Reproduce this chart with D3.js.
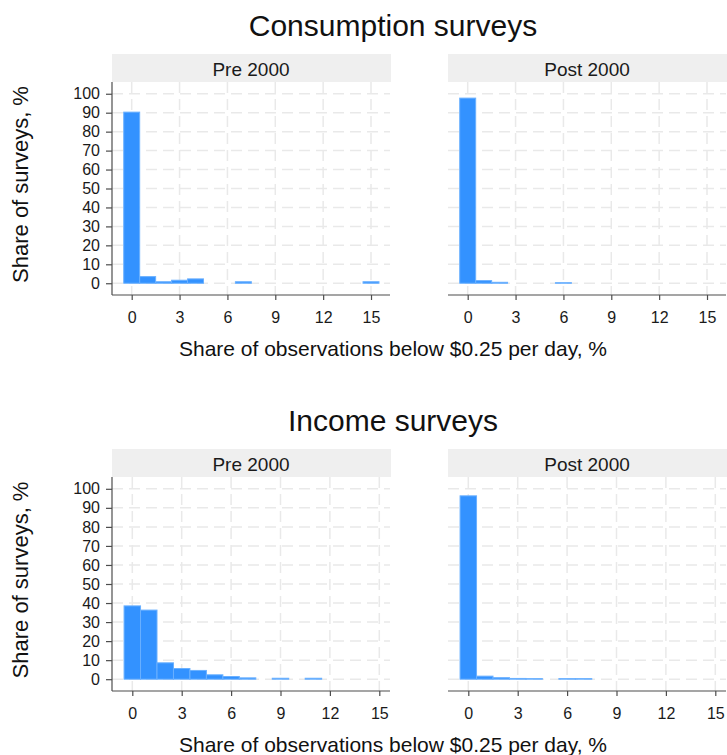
<!DOCTYPE html>
<html lang="en">
<head>
  <meta charset="UTF-8" />
  <title>Share of observations below $0.25 per day</title>
  <script src="https://d3js.org/d3.v7.min.js"></script>
  <style>
    body {
      margin: 0;
      padding: 0;
      background: #fff;
      font-family: "Liberation Sans", Arial, sans-serif;
    }
    .grid line {
      stroke: #e9e9e9;
      stroke-width: 1.5;
      stroke-dasharray: 11, 6;
    }
    .axis path, .axis line {
      stroke: #4d4d4d;
      stroke-width: 1.2;
    }
    .axis text {
      fill: #1a1a1a;
      font-size: 16px;
    }
    .bar {
      fill: #3392ff;
      stroke: #6ab0ff;
      stroke-width: 1;
    }
    .strip {
      fill: #efefef;
    }
  </style>
</head>
<body>
  <svg width="727" height="755"></svg>

  <script>
    // bin centres (width 1) and share of surveys, %
    const consPreBins = [0, 1, 2, 3, 4, 7, 15];
    const consPreVals = [90.3, 3.5, 0.8, 1.6, 2.3, 0.8, 0.8];
    const consPostBins = [0, 1, 2, 6];
    const consPostVals = [97.7, 1.4, 0.5, 0.3];
    const incPreBins = [0, 1, 2, 3, 4, 5, 6, 7, 9, 11];
    const incPreVals = [38.5, 36.3, 8.6, 5.6, 4.6, 2.3, 1.4, 0.7, 0.5, 0.5];
    const incPostBins = [0, 1, 2, 3, 4, 6, 7];
    const incPostVals = [96.3, 1.6, 0.8, 0.4, 0.3, 0.3, 0.3];

    const xTicks = [0, 3, 6, 9, 12, 15];
    const yTicks = [0, 10, 20, 30, 40, 50, 60, 70, 80, 90, 100];
    const stripLabels = ["Pre 2000", "Post 2000"];
    const titles = ["Consumption surveys", "Income surveys"];
    const xTitle = "Share of observations below $0.25 per day, %";
    const yTitle = "Share of surveys, %";

    const svg = d3.select("svg");

    const rows = [
      { title: titles[0], top: 82, bottom: 295, xDomain: [-1.235, 16.19],
        panels: [[consPreBins, consPreVals], [consPostBins, consPostVals]] },
      { title: titles[1], top: 477, bottom: 691, xDomain: [-1.233, 15.65],
        panels: [[incPreBins, incPreVals], [incPostBins, incPostVals]] }
    ];
    const panelX = [[112, 390], [448, 726]];

    rows.forEach((row) => {
      svg.append("text")
        .attr("x", 393)
        .attr("y", row.top - 46)
        .attr("text-anchor", "middle")
        .attr("font-size", 30)
        .attr("fill", "#111")
        .text(row.title);

      const y = d3.scaleLinear().domain([-6.2, 106.2]).range([row.bottom, row.top]);

      row.panels.forEach(([bins, vals], i) => {
        const [x0, x1] = panelX[i];
        const x = d3.scaleLinear().domain(row.xDomain).range([x0, x1]);
        const g = svg.append("g");

        // strip
        g.append("rect")
          .attr("class", "strip")
          .attr("x", x0)
          .attr("y", row.top - 28)
          .attr("width", x1 - x0 + 1)
          .attr("height", 28);
        g.append("text")
          .attr("x", (x0 + x1) / 2)
          .attr("y", row.top - 6)
          .attr("text-anchor", "middle")
          .attr("font-size", 19)
          .attr("fill", "#1a1a1a")
          .text(stripLabels[i]);

        // grid
        const grid = g.append("g").attr("class", "grid");
        grid.selectAll(".h").data(yTicks).enter().append("line")
          .attr("x1", x0).attr("x2", x1)
          .attr("y1", (d) => y(d)).attr("y2", (d) => y(d));
        grid.selectAll(".v").data(xTicks).enter().append("line")
          .attr("x1", (d) => x(d)).attr("x2", (d) => x(d))
          .attr("y1", row.top).attr("y2", row.bottom);

        // bars
        g.selectAll(".bar")
          .data(bins.map((b, j) => ({ b, v: vals[j] })))
          .enter()
          .append("rect")
          .attr("class", "bar")
          .attr("x", (d) => x(d.b - 0.5))
          .attr("width", (d) => x(d.b + 0.5) - x(d.b - 0.5))
          .attr("y", (d) => y(d.v))
          .attr("height", (d) => y(0) - y(d.v));

        // x axis
        g.append("g")
          .attr("class", "axis")
          .attr("transform", `translate(0,${row.bottom})`)
          .call(d3.axisBottom(x).tickValues(xTicks).tickSize(5).tickPadding(12).tickSizeOuter(0))
          .call((a) => a.select(".domain").attr("d", `M${x0},0H${x1}`));

        if (i === 0) {
          g.append("g")
            .attr("class", "axis")
            .attr("transform", `translate(${x0},0)`)
            .call(d3.axisLeft(y).tickValues(yTicks).tickSize(6).tickPadding(6).tickSizeOuter(0))
            .call((a) => a.select(".domain").attr("d", `M0,${row.top}V${row.bottom}`));
        }
      });

      svg.append("text")
        .attr("x", 393)
        .attr("y", row.bottom + 61)
        .attr("text-anchor", "middle")
        .attr("font-size", 21)
        .attr("fill", "#111")
        .text(xTitle);

      svg.append("text")
        .attr("transform", `translate(28,${(row.top + row.bottom) / 2 - 4}) rotate(-90)`)
        .attr("text-anchor", "middle")
        .attr("font-size", 22)
        .attr("fill", "#111")
        .text(yTitle);
    });
  </script>
</body>
</html>
